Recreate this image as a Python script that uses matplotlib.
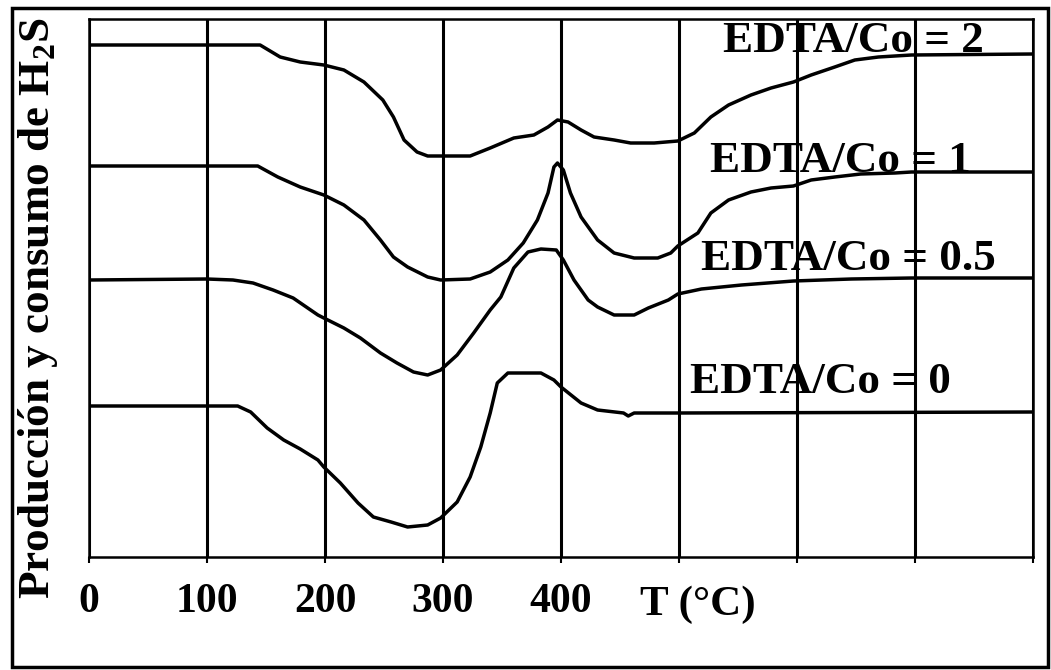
import matplotlib
matplotlib.use("Agg")
import matplotlib.pyplot as plt
from matplotlib.patches import Rectangle

plt.rcParams['font.family'] = ['Liberation Serif', 'DejaVu Serif']
plt.rcParams['font.weight'] = 'bold'
plt.rcParams['mathtext.fontset'] = 'custom'
plt.rcParams['mathtext.rm'] = 'Liberation Serif:bold'
plt.rcParams['mathtext.bf'] = 'Liberation Serif:bold'
plt.rcParams['mathtext.it'] = 'Liberation Serif:bold'
plt.rcParams['mathtext.default'] = 'bf'

# temperatura (°C) y señal (u.a., curvas desplazadas verticalmente)
T_2 = [0, 100, 145, 162, 179, 199, 216, 233, 249, 258, 267, 278, 287, 298, 323,
       340, 360, 377, 389, 397, 406, 417, 428, 445, 459, 479, 499, 513, 527, 542,
       561, 578, 597, 612, 632, 649, 669, 697, 800]
y_2 = [5.12, 5.12, 5.12, 5.00, 4.95, 4.92, 4.87, 4.75, 4.57, 4.40, 4.17, 4.05, 4.01, 4.01, 4.01,
       4.09, 4.19, 4.22, 4.30, 4.37, 4.35, 4.27, 4.20, 4.17, 4.14, 4.14, 4.16, 4.24, 4.40, 4.52,
       4.62, 4.69, 4.75, 4.82, 4.90, 4.97, 5.00, 5.02, 5.03]

T_1 = [0, 100, 143, 160, 179, 199, 216, 233, 247, 258, 270, 287, 298, 323, 340,
       355, 368, 380, 389, 394, 397, 402, 408, 417, 431, 445, 462, 482, 493, 499,
       516, 527, 542, 561, 578, 597, 612, 632, 654, 683, 697, 800]
y_1 = [3.91, 3.91, 3.91, 3.80, 3.70, 3.62, 3.52, 3.37, 3.17, 3.00, 2.90, 2.80, 2.77, 2.78, 2.85,
       2.97, 3.14, 3.37, 3.64, 3.90, 3.94, 3.87, 3.64, 3.40, 3.17, 3.04, 2.99, 2.99, 3.04, 3.11,
       3.24, 3.44, 3.57, 3.65, 3.69, 3.71, 3.77, 3.80, 3.83, 3.84, 3.85, 3.85]

T_05 = [0, 100, 122, 139, 156, 173, 194, 199, 216, 230, 247, 261, 275, 287, 298,
        312, 326, 340, 349, 360, 372, 383, 396, 402, 411, 423, 431, 445, 462, 474,
        491, 499, 519, 553, 597, 646, 697, 800]
y_05 = [2.77, 2.78, 2.77, 2.74, 2.67, 2.59, 2.42, 2.39, 2.29, 2.19, 2.04, 1.94, 1.85, 1.82, 1.87,
        2.02, 2.24, 2.47, 2.60, 2.89, 3.05, 3.08, 3.07, 2.97, 2.77, 2.57, 2.50, 2.42, 2.42, 2.49,
        2.57, 2.63, 2.68, 2.72, 2.76, 2.78, 2.79, 2.79]

T_0 = [0, 100, 126, 137, 151, 165, 179, 194, 199, 213, 228, 241, 256, 270, 287,
       298, 312, 323, 332, 340, 346, 355, 383, 394, 400, 417, 431, 453, 457, 462,
       499, 800]
y_0 = [1.51, 1.51, 1.51, 1.45, 1.29, 1.17, 1.08, 0.97, 0.90, 0.74, 0.54, 0.40, 0.35, 0.30, 0.32,
       0.39, 0.55, 0.80, 1.10, 1.44, 1.74, 1.84, 1.84, 1.77, 1.70, 1.54, 1.47, 1.44, 1.41, 1.44,
       1.44, 1.45]

labels = ['EDTA/Co = 2', 'EDTA/Co = 1', 'EDTA/Co = 0.5', 'EDTA/Co = 0']
label_x = [537, 526, 519, 509]
label_y = [5.05, 3.85, 2.87, 1.64]

xticks = [0, 100, 200, 300, 400, 500, 600, 700, 800]
xticklabels = ['0', '100', '200', '300', '400', '', '', '', '']

fig = plt.figure(figsize=(10.51, 6.70), dpi=100)
ax = fig.add_axes([89 / 1051, 1 - 557 / 670, (1033 - 89) / 1051, (557 - 19) / 670])

for T, y in [(T_2, y_2), (T_1, y_1), (T_05, y_05), (T_0, y_0)]:
    ax.plot(T, y, color='black', lw=2.5, zorder=3)

for lab, lx, ly in zip(labels, label_x, label_y):
    ax.text(lx, ly, lab, fontsize=32.5, ha='left', va='baseline', zorder=4)

ax.set_xlim(0, 800)
ax.set_ylim(0, 5.38)
ax.set_xticks(xticks)
ax.set_xticklabels(xticklabels)
ax.set_yticks([])
ax.grid(axis='x', color='black', lw=2.2)
ax.tick_params(axis='x', direction='out', length=4, width=1.5, pad=15, labelsize=30)
for s in ax.spines.values():
    s.set_linewidth(1.8)

fig.text(0.664, 0.097, 'T (°C)', fontsize=31, ha='center', va='center')
fig.text(0.036, 0.54, 'Producción y consumo de H$_2$S', fontsize=32.5,
         rotation=90, ha='center', va='center')

# marco exterior
fig.patches.append(Rectangle((0.011, 0.0045), 0.986, 0.9836, transform=fig.transFigure,
                             fill=False, lw=2.5, edgecolor='black'))

fig.savefig('out.png', dpi=100, facecolor='white')
